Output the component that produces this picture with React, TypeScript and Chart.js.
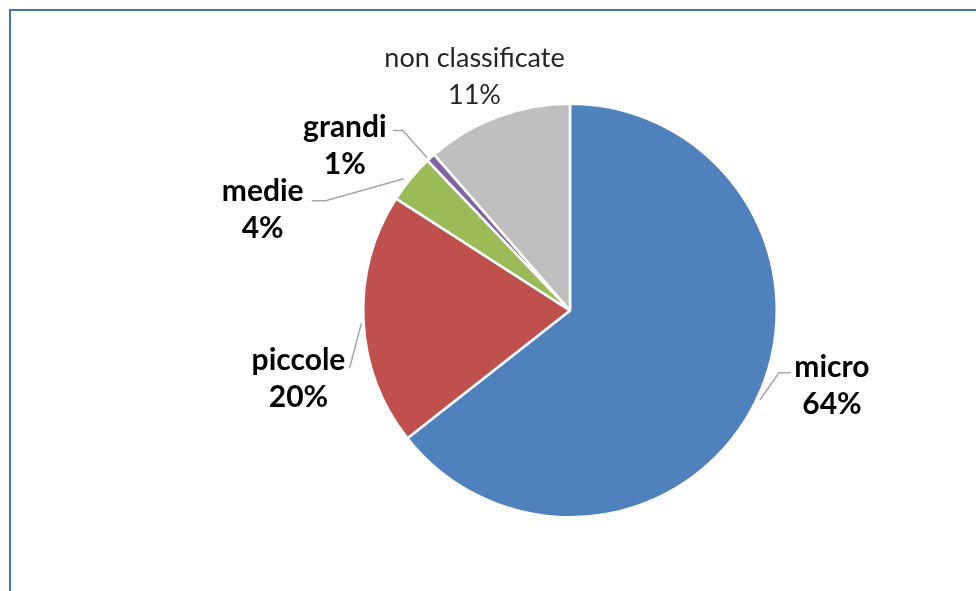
import React, { useEffect, useRef } from "react";
import { Chart, registerables } from "chart.js";

Chart.register(...registerables);

const categories = ["micro", "piccole", "medie", "grandi", "non classificate"];
const shares = [64.4, 19.7, 3.8, 0.7, 11.4];
const sliceColors = ["#4F81BD", "#C0504D", "#9BBB59", "#8064A2", "#BFBFBF"];
const boldLabel = [true, true, true, true, false];

// label centre offsets from the slice's outer mid-point (layout config)
const labelOffsets: [number, number][] = [
  [76, -16],
  [-65, 58],
  [-148, 31],
  [-86, -12],
  [-23, -41],
];
// leader line points relative to the slice's outer mid-point
const leaderLines: [number, number][][] = [
  [[4, -1], [23, -28], [35, -28]],
  [[-2, 3], [-14, 48]],
  [[-7, 0], [-85, 22], [-99, 22]],
  [[-4, 0], [-28, -27], [-38, -27]],
  [],
];

const FONT = "'Lato', 'Liberation Sans', sans-serif";

const labelPlugin = {
  id: "pieLabels",
  afterDatasetsDraw(chart: any) {
    const ctx = chart.ctx;
    const meta = chart.getDatasetMeta(0);
    const total = shares.reduce((a, b) => a + b, 0);
    meta.data.forEach((arc: any, i: number) => {
      const p = arc.getProps(["x", "y", "startAngle", "endAngle", "outerRadius"], true);
      const mid = (p.startAngle + p.endAngle) / 2;
      const ax = p.x + Math.cos(mid) * p.outerRadius;
      const ay = p.y + Math.sin(mid) * p.outerRadius;
      const pts = leaderLines[i];
      ctx.save();
      if (pts.length) {
        ctx.strokeStyle = "#A6A6A6";
        ctx.lineWidth = 1.5;
        ctx.beginPath();
        pts.forEach(([dx, dy], k) => {
          if (k === 0) ctx.moveTo(ax + dx, ay + dy);
          else ctx.lineTo(ax + dx, ay + dy);
        });
        ctx.stroke();
      }
      const [ox, oy] = labelOffsets[i];
      const cx = ax + ox;
      const cy = ay + oy;
      const pct = Math.round((shares[i] / total) * 100) + "%";
      ctx.fillStyle = boldLabel[i] ? "#000000" : "#262626";
      ctx.font = (boldLabel[i] ? "bold 30px " : "27px ") + FONT;
      ctx.textAlign = "center";
      ctx.textBaseline = "middle";
      ctx.fillText(categories[i], cx, cy - 18);
      ctx.fillText(pct, cx, cy + 19);
      ctx.restore();
    });
  },
};

export default function App() {
  const ref = useRef<HTMLCanvasElement>(null);
  useEffect(() => {
    document.body.style.margin = "0";
    const chart = new Chart(ref.current as HTMLCanvasElement, {
      type: "pie",
      data: {
        labels: categories,
        datasets: [
          {
            data: shares,
            backgroundColor: sliceColors,
            borderColor: "#FFFFFF",
            borderWidth: 2.5,
          },
        ],
      },
      options: {
        responsive: false,
        animation: false,
        layout: { padding: { top: 102, bottom: 72, left: 362, right: 198 } },
        plugins: {
          legend: { display: false },
          tooltip: { enabled: false },
        },
      },
      plugins: [labelPlugin],
    });
    return () => chart.destroy();
  }, []);
  return (
    <div
      style={{
        position: "absolute",
        left: 0,
        top: 0,
        width: 976,
        height: 591,
        overflow: "hidden",
        background: "#FFFFFF",
      }}
    >
      <canvas ref={ref} width={976} height={591} style={{ display: "block" }} />
      <div
        style={{
          position: "absolute",
          left: 9,
          top: 9,
          width: 2000,
          height: 2000,
          borderTop: "2px solid #4474A6",
          borderLeft: "2px solid #4474A6",
        }}
      />
    </div>
  );
}
